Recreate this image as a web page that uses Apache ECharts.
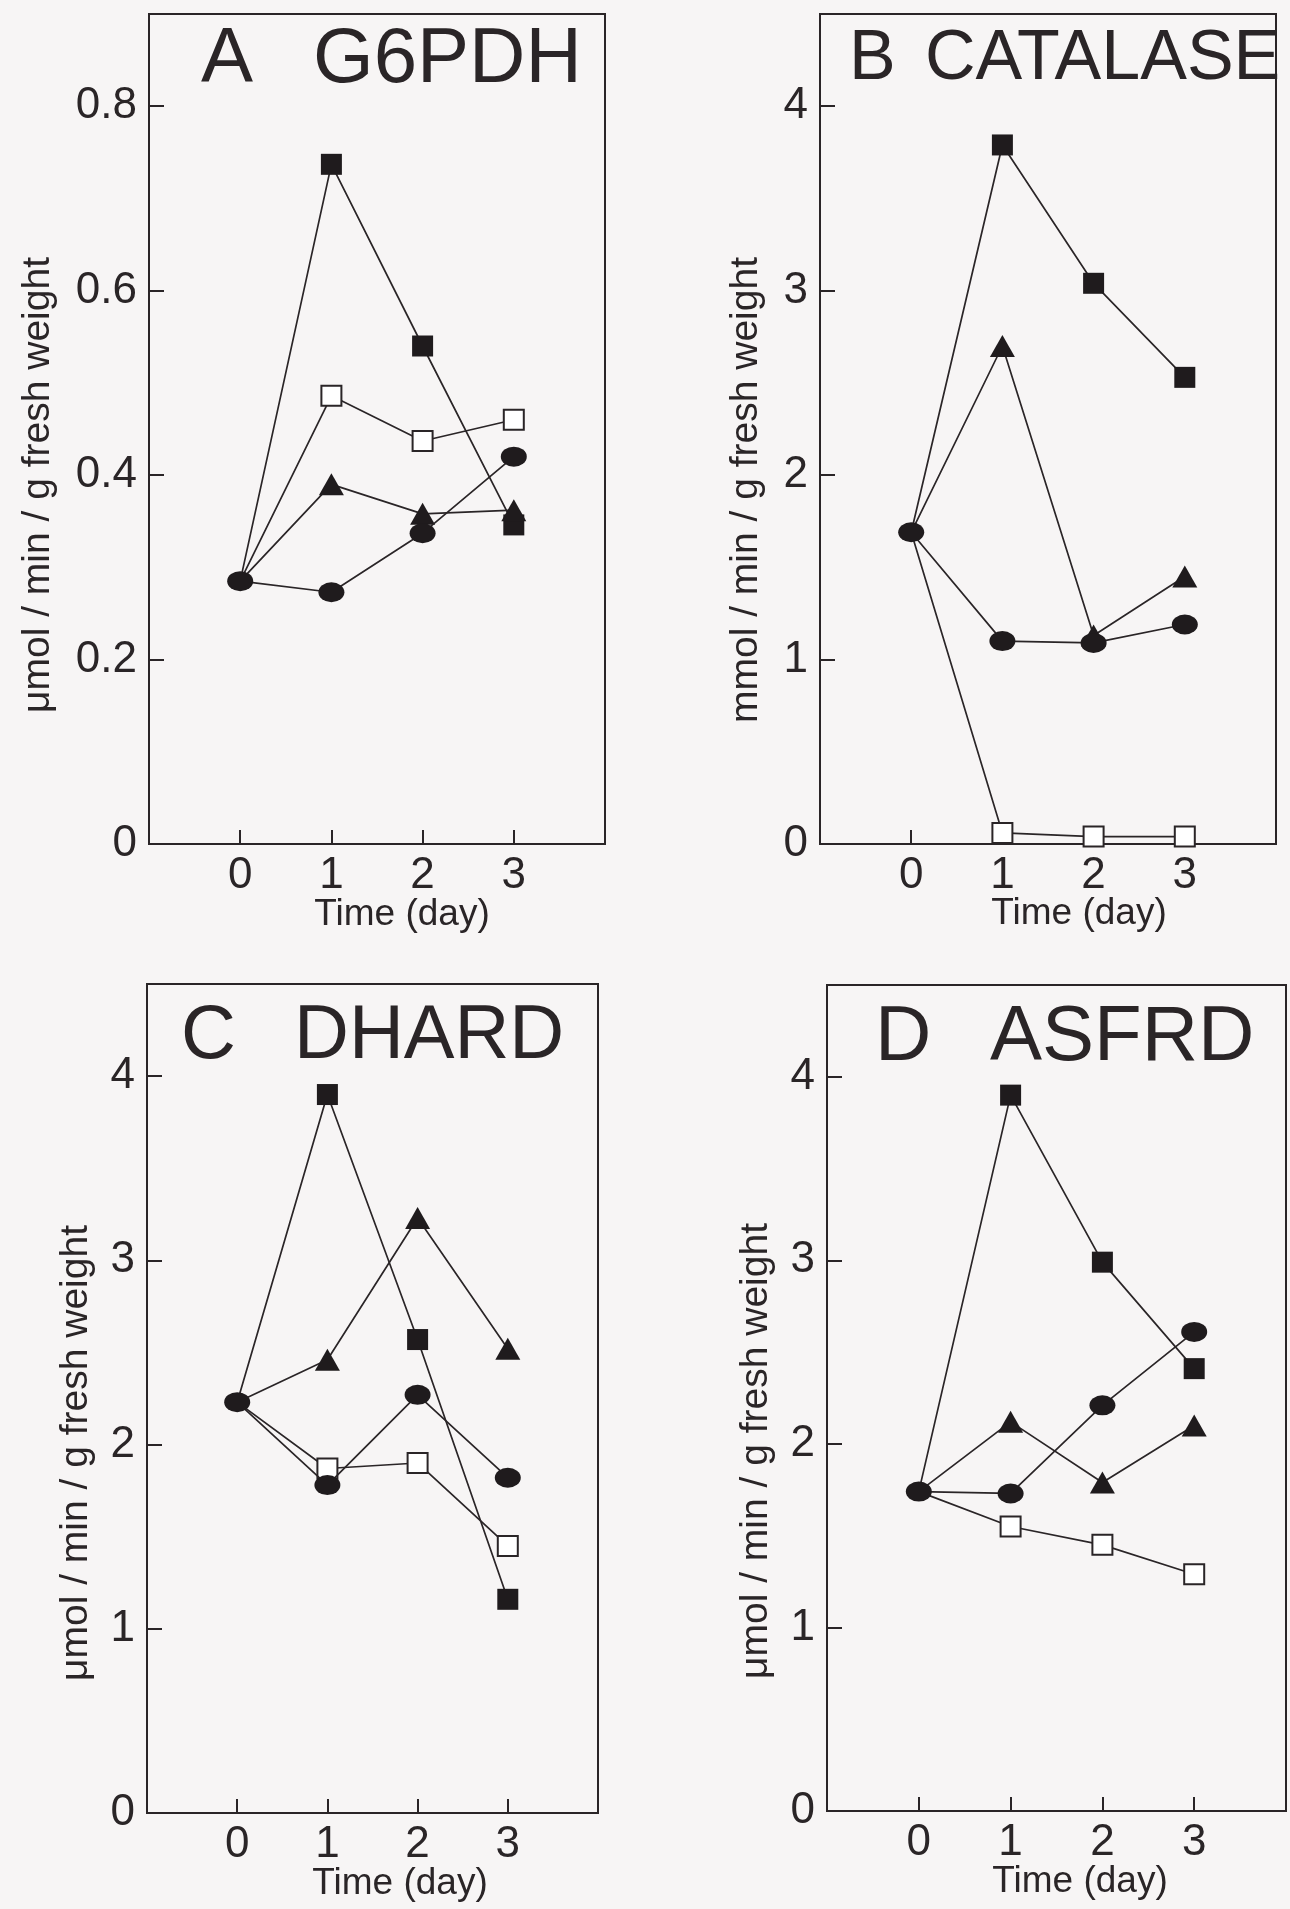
<!DOCTYPE html>
<html><head><meta charset="utf-8">
<script src="https://cdn.jsdelivr.net/npm/echarts@6/dist/echarts.min.js"></script>
<style>html,body{margin:0;padding:0;background:#f7f5f5}#c{width:1290px;height:1909px}</style>
</head><body><div id="c"></div>
<script>
// ---- data ----
const days = [0, 1, 2, 3];
const xTickValues = [0, 1, 2, 3];

// Panel A: G6PDH (umol/min/g fresh weight)
const aFilledSquare = [0.285, 0.737, 0.540, 0.346];
const aOpenSquare   = [0.285, 0.486, 0.437, 0.460];
const aTriangle     = [0.285, 0.390, 0.358, 0.362];
const aCircle       = [0.285, 0.273, 0.337, 0.420];

// Panel B: CATALASE (mmol/min/g fresh weight)
const bFilledSquare = [1.69, 3.79, 3.04, 2.53];
const bTriangle     = [1.69, 2.70, 1.13, 1.45];
const bCircle       = [1.69, 1.10, 1.09, 1.19];
const bOpenSquare   = [1.69, 0.06, 0.04, 0.04];

// Panel C: DHARD
const cFilledSquare = [2.23, 3.90, 2.57, 1.16];
const cTriangle     = [2.23, 2.46, 3.23, 2.52];
const cCircle       = [2.23, 1.78, 2.27, 1.82];
const cOpenSquare   = [2.23, 1.87, 1.90, 1.45];

// Panel D: ASFRD
const dFilledSquare = [1.74, 3.90, 2.99, 2.41];
const dCircle       = [1.74, 1.73, 2.21, 2.61];
const dTriangle     = [1.74, 2.12, 1.79, 2.10];
const dOpenSquare   = [1.74, 1.55, 1.45, 1.29];

const panelLetters = ['A', 'B', 'C', 'D'];
const panelNames = ['G6PDH', 'CATALASE', 'DHARD', 'ASFRD'];
const yAxisTitles = ['\u03bcmol / min / g fresh weight', 'mmol / min / g fresh weight',
                     '\u03bcmol / min / g fresh weight', '\u03bcmol / min / g fresh weight'];
const xAxisTitle = 'Time (day)';
const yMax = [0.9, 4.5, 4.5, 4.5];
const yInterval = [0.2, 1, 1, 1];

// ---- styling / layout ----
const INK = '#2a2527';
const FONT = "'Liberation Sans', Arial, sans-serif";
const grids = [
  {left: 149, top: 14, width: 456, height: 830},
  {left: 820, top: 14, width: 456, height: 830},
  {left: 147, top: 984, width: 451, height: 829},
  {left: 827, top: 985, width: 459, height: 826}
];

function series(gi, vals, kind) {
  const sym = {fsq: 'rect', osq: 'rect', tri: 'triangle', cir: 'circle'}[kind];
  const size = {fsq: 21, osq: 20, tri: [25, 22], cir: [26, 20]}[kind];
  return {
    type: 'line', xAxisIndex: gi, yAxisIndex: gi,
    symbol: sym, symbolSize: size, showAllSymbol: true,
    data: days.map((d, i) => (i === 0 && kind !== 'cir') ? {value: [d, vals[i]], symbol: 'none'} : [d, vals[i]]),
    lineStyle: {color: INK, width: 1.7},
    itemStyle: kind === 'osq' ? {color: '#ffffff', borderColor: INK, borderWidth: 2}
                              : {color: '#1f1b1d', borderColor: '#1f1b1d', borderWidth: 0},
    emphasis: {disabled: true}, animation: false, z: kind === 'cir' ? 5 : 3
  };
}

const allSeries = [
  series(0, aFilledSquare, 'fsq'), series(0, aOpenSquare, 'osq'), series(0, aTriangle, 'tri'), series(0, aCircle, 'cir'),
  series(1, bFilledSquare, 'fsq'), series(1, bTriangle, 'tri'), series(1, bOpenSquare, 'osq'), series(1, bCircle, 'cir'),
  series(2, cFilledSquare, 'fsq'), series(2, cTriangle, 'tri'), series(2, cOpenSquare, 'osq'), series(2, cCircle, 'cir'),
  series(3, dFilledSquare, 'fsq'), series(3, dTriangle, 'tri'), series(3, dOpenSquare, 'osq'), series(3, dCircle, 'cir')
];

const tickLabelStyle = {color: INK, fontFamily: FONT, fontSize: 44};

const xAxes = grids.map((g, i) => ({
  type: 'value', gridIndex: i, min: -1, max: 4, interval: 1,
  axisLine: {show: false, onZero: false}, splitLine: {show: false},
  axisTick: {show: true, inside: true, length: 14, lineStyle: {color: INK, width: 2}, customValues: xTickValues},
  axisLabel: Object.assign({margin: 10, customValues: xTickValues}, tickLabelStyle)
}));
const yAxes = grids.map((g, i) => ({
  type: 'value', gridIndex: i, min: 0, max: yMax[i], interval: yInterval[i],
  axisLine: {show: false, onZero: false}, splitLine: {show: false},
  axisTick: {show: true, inside: true, length: 15, lineStyle: {color: INK, width: 2}},
  axisLabel: Object.assign({margin: 12, showMaxLabel: false}, tickLabelStyle)
}));

// titles, axis names (text only)
const titlePos = [
  {lx: 201, wx: 313, y: 60, fs: 78},
  {lx: 849, wx: 925, y: 60, fs: 70},
  {lx: 181, wx: 294, y: 1037, fs: 76},
  {lx: 875, wx: 990, y: 1038, fs: 78}
];
const yNamePos = [[38, 485], [746, 490], [76, 1453], [756, 1451]];
const xNamePos = [[402, 915], [1079, 914], [400, 1884], [1080, 1882]];

const graphics = [];
titlePos.forEach((t, i) => {
  graphics.push({type: 'text', x: t.lx, y: t.y, silent: true,
    style: {text: panelLetters[i], fill: INK, font: t.fs + 'px ' + FONT, textAlign: 'left', textVerticalAlign: 'middle'}});
  graphics.push({type: 'text', x: t.wx, y: t.y, silent: true,
    style: {text: panelNames[i], fill: INK, font: t.fs + 'px ' + FONT, textAlign: 'left', textVerticalAlign: 'middle'}});
});
yNamePos.forEach((p, i) => {
  graphics.push({type: 'text', x: p[0], y: p[1], rotation: Math.PI / 2, silent: true,
    style: {text: yAxisTitles[i], fill: INK, font: '39px ' + FONT, textAlign: 'center', textVerticalAlign: 'middle'}});
});
xNamePos.forEach((p, i) => {
  graphics.push({type: 'text', x: p[0], y: p[1], silent: true,
    style: {text: xAxisTitle, fill: INK, font: '37px ' + FONT, textAlign: 'center', textVerticalAlign: 'middle'}});
});

const chart = echarts.init(document.getElementById('c'), null, {renderer: 'canvas'});
chart.setOption({
  backgroundColor: '#f7f5f5',
  animation: false,
  grid: grids.map(g => Object.assign({show: true, borderColor: INK, borderWidth: 2, backgroundColor: 'transparent'}, g)),
  xAxis: xAxes,
  yAxis: yAxes,
  series: allSeries,
  graphic: graphics
});
</script></body></html>
